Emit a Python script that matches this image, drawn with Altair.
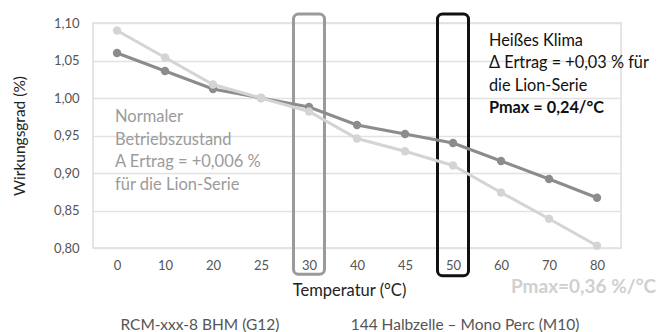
import altair as alt
import pandas as pd

# ---- data ----
temps = ["0", "10", "20", "25", "30", "40", "45", "50", "60", "70", "80"]
g12 = [1.060, 1.036, 1.012, 1.000, 0.988, 0.964, 0.952, 0.940, 0.916, 0.892, 0.867]
m10 = [1.090, 1.054, 1.018, 1.000, 0.982, 0.946, 0.929, 0.910, 0.874, 0.839, 0.803]
series_names = ["RCM-xxx-8 BHM (G12)", "144 Halbzelle – Mono Perc (M10)"]
series_colors = ["#8c8c8c", "#d4d4d4"]
y_ticks = [0.80, 0.85, 0.90, 0.95, 1.00, 1.05, 1.10]
box_temps = ["30", "50"]
box_colors = ["#9a9a9a", "#111111"]
box_top = [1.112, 1.112]
box_bottom = [0.765, 0.763]
left_note = ["Normaler", "Betriebszustand", "A Ertrag = +0,006  %", "für die Lion-Serie"]
right_note = ["Heißes Klima", "Δ Ertrag = +0,03 % für", "die Lion-Serie", "Pmax = 0,24/°C"]
pmax_m10 = "Pmax=0,36 %/°C"
x_title = "Temperatur (°C)"
y_title = "Wirkungsgrad (%)"

FONT = "Lato"

df_g12 = pd.DataFrame({"temp": temps, "value": g12, "series": series_names[0]})
df_m10 = pd.DataFrame({"temp": temps, "value": m10, "series": series_names[1]})
df_box = pd.DataFrame({"temp": box_temps, "top": box_top, "bottom": box_bottom, "kind": box_temps})

x_axis = alt.Axis(
    title=x_title, labelAngle=0, ticks=False, domain=False, grid=False,
    labelPadding=11, labelFontSize=13, labelColor="#555555", labelFont=FONT,
    titleFontSize=16.5, titleColor="#222222", titleFont=FONT, titleFontWeight="normal",
    titlePadding=10, titleX=256,
)
x_scale = alt.Scale(type="point", domain=temps, padding=0.5)
y_axis = alt.Axis(
    title=y_title, values=y_ticks, ticks=False, domain=False,
    grid=True, gridColor="#e2e2e2", gridWidth=1.5, labelOverlap=False,
    labelExpr="replace(format(datum.value, '.2f'), '.', ',')",
    labelPadding=14, labelFontSize=13, labelColor="#555555", labelFont=FONT,
    titleFontSize=15.5, titleColor="#222222", titleFont=FONT, titleFontWeight="normal",
    titlePadding=26,
)
y_scale = alt.Scale(domain=[0.80, 1.10], nice=False, zero=False)
color_scale = alt.Scale(domain=series_names, range=series_colors)


def series_layer(df):
    base = alt.Chart(df).encode(
        x=alt.X("temp:O", sort=temps, scale=x_scale, axis=x_axis),
        y=alt.Y("value:Q", scale=y_scale, axis=y_axis),
        color=alt.Color("series:N", scale=color_scale, legend=None),
    )
    return base.mark_line(strokeWidth=3) + base.mark_circle(size=70, opacity=1)


boxes = alt.Chart(df_box).mark_bar(
    filled=False, width=31, cornerRadius=5, strokeWidth=3
).encode(
    x=alt.X("temp:O", sort=temps, scale=x_scale, axis=x_axis),
    y=alt.Y("top:Q", scale=y_scale, axis=y_axis),
    y2="bottom:Q",
    stroke=alt.Stroke("kind:N", scale=alt.Scale(domain=box_temps, range=box_colors), legend=None),
)


def text_layer(txt, x, y, size, color, weight="normal", align="left"):
    return alt.Chart(pd.DataFrame({"t": [txt]})).mark_text(
        align=align, baseline="middle", font=FONT, fontSize=size,
        color=color, fontWeight=weight,
    ).encode(text="t:N", x=alt.value(x), y=alt.value(y))


layers = [boxes, series_layer(df_g12), series_layer(df_m10)]

for i, line in enumerate(left_note):
    layers.append(text_layer(line, 22, 94 + i * 22.5, 16.5, "#9b9b9b"))
for i, line in enumerate(right_note):
    layers.append(text_layer(line, 396, 18 + i * 22.3, 16.3, "#111111",
                             weight="bold" if i == 3 else "normal"))

layers.append(text_layer(pmax_m10, 418, 264, 19, "#d0d0d0", weight="bold"))
layers.append(text_layer(series_names[0], 107, 302, 15.5, "#555555", align="center"))
layers.append(text_layer(series_names[1], 372, 302, 15.5, "#555555", align="center"))

chart = alt.layer(*layers).properties(
    width=528,
    height=225,
    autosize=alt.AutoSizeParams(type="none"),
    padding={"left": 93, "top": 23, "right": 47, "bottom": 84},
    background="white",
).configure_view(stroke="#dddddd", strokeWidth=1.5)

chart.save("out.html", embed_options={"renderer": "svg", "actions": False})
